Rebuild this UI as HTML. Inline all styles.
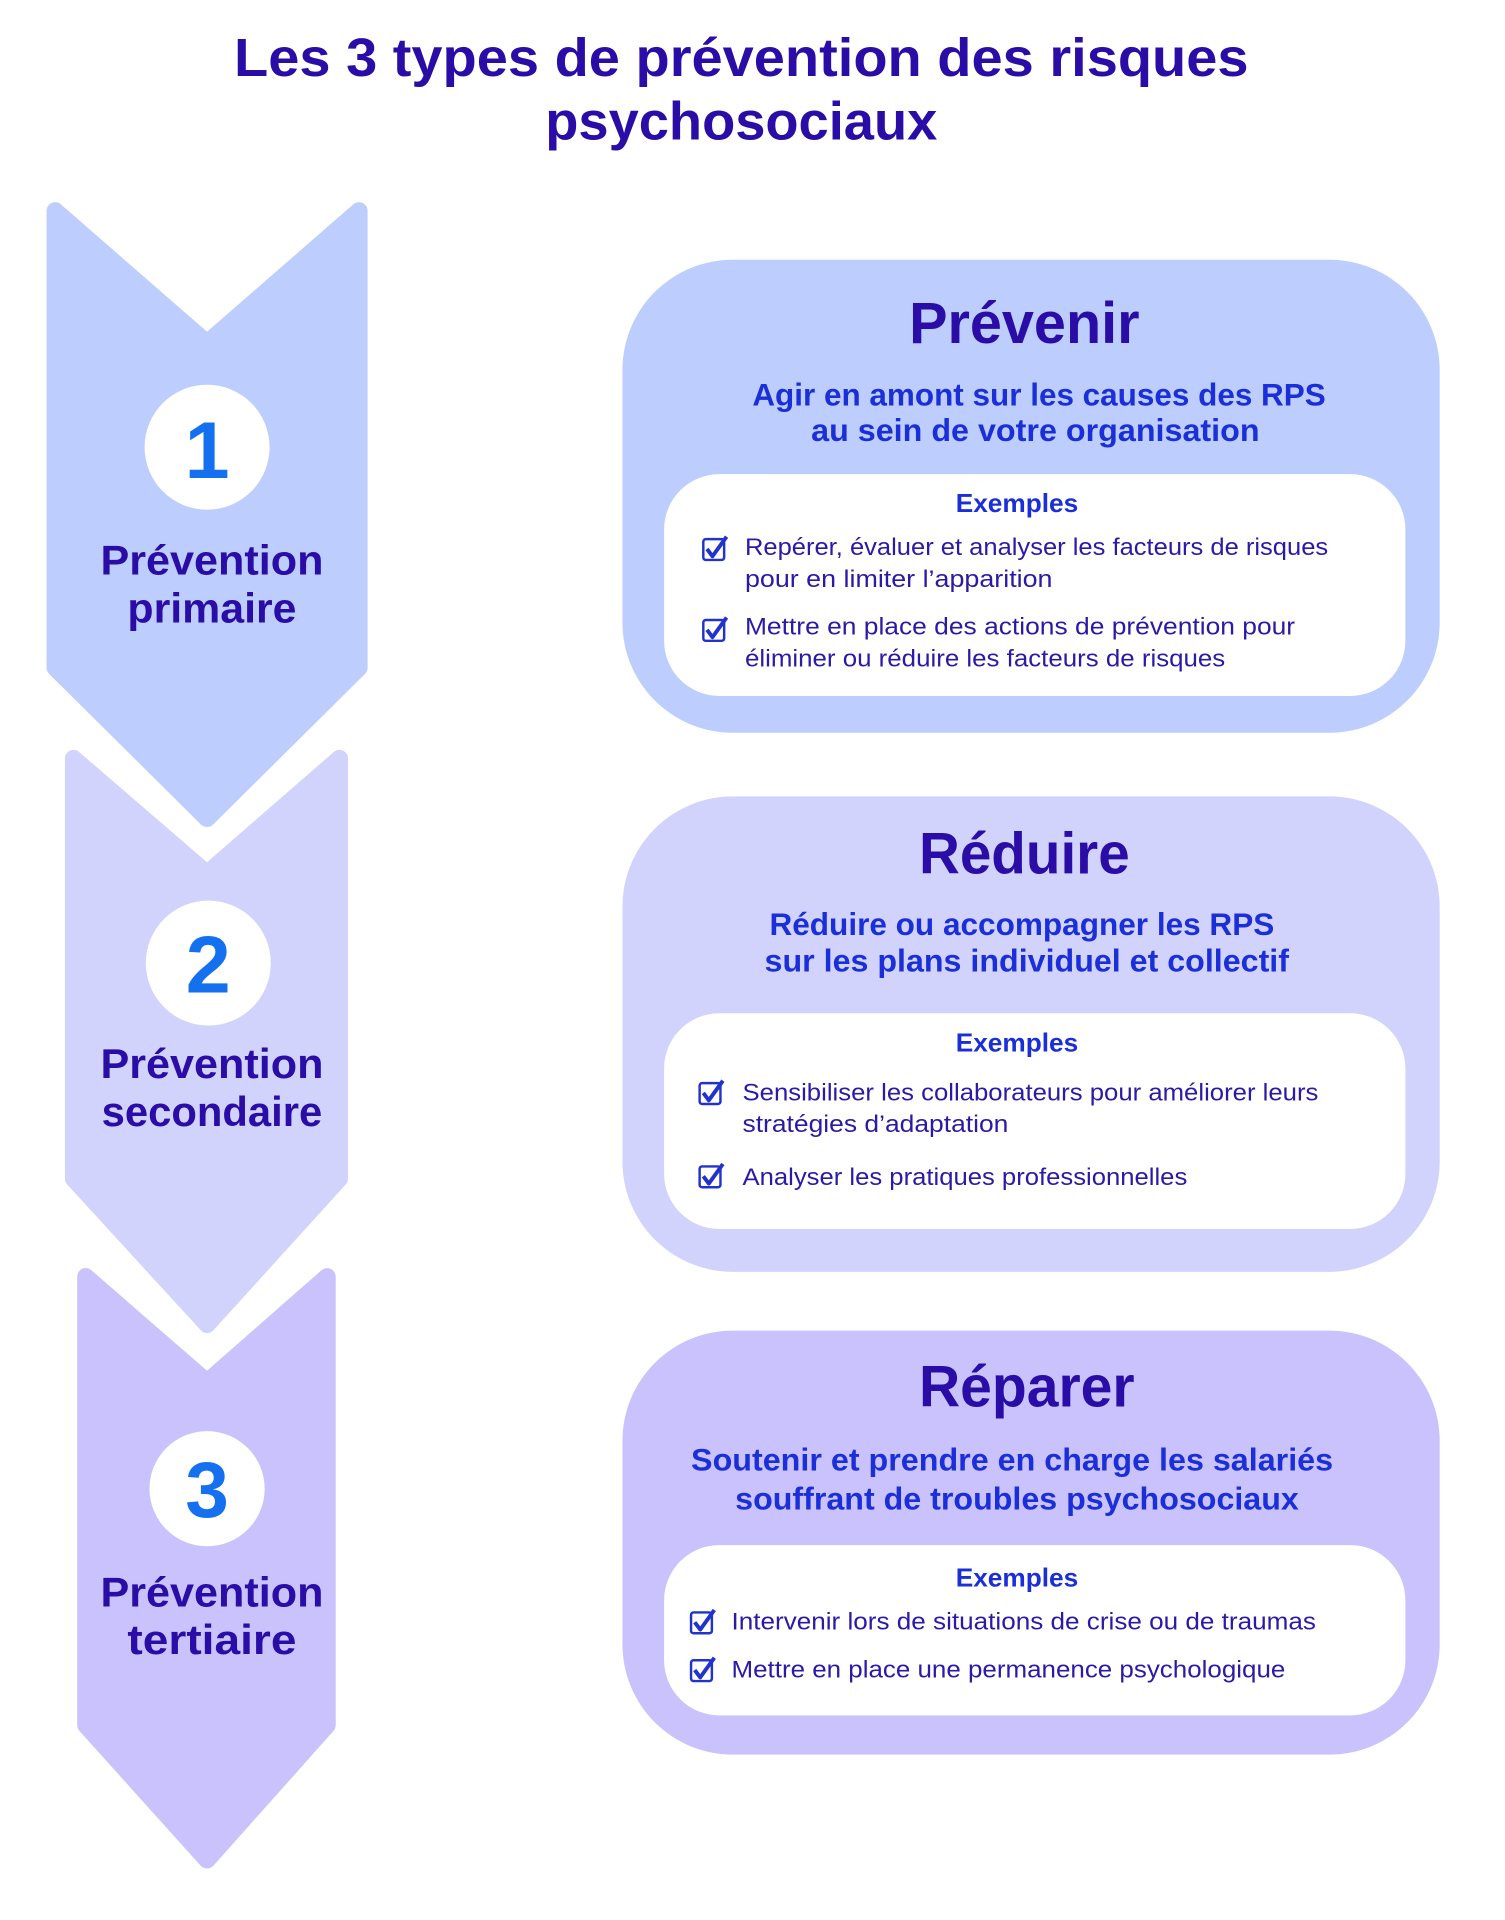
<!DOCTYPE html>
<html><head><meta charset="utf-8"><style>
html,body{margin:0;padding:0;background:#fff;}
svg{display:block;}
text{font-family:"Liberation Sans",sans-serif;}
.h{fill:#2a0ca6;font-weight:bold;}
.s{fill:#1b2fd8;font-weight:bold;}
.e{fill:#1b2fd8;font-weight:bold;}
.i{fill:#2a1aa8;}
.n{fill:#1570f0;font-weight:bold;}
</style></head><body>
<svg width="1505" height="1920" viewBox="0 0 1228.3 1567" xmlns="http://www.w3.org/2000/svg">
<defs>
<g id="cb"><rect x="0" y="0" width="17" height="17" rx="2" fill="#fff" stroke="#2233cc" stroke-width="2"/><path d="M3 8 L7.5 14 L19 -2" fill="none" stroke="#2233cc" stroke-width="3.2" stroke-linejoin="round"/></g>
</defs>
<text x="605" y="62" text-anchor="middle" class="h" font-size="44" textLength="828" lengthAdjust="spacingAndGlyphs">Les 3 types de prévention des risques</text>
<text x="605" y="114" text-anchor="middle" class="h" font-size="44" textLength="320" lengthAdjust="spacingAndGlyphs">psychosociaux</text>

<polygon points="45,172 169,280 293,172 293,545 169,668 45,545" fill="#bdcdfd" stroke="#bdcdfd" stroke-width="14" stroke-linejoin="round"/>
<polygon points="60,619 169,713 277,619 277,962 169,1081 60,962" fill="#d2d3fd" stroke="#d2d3fd" stroke-width="14" stroke-linejoin="round"/>
<polygon points="70,1042 169,1128 267,1042 267,1408 169,1518 70,1408" fill="#c9c2fd" stroke="#c9c2fd" stroke-width="14" stroke-linejoin="round"/>

<circle cx="169" cy="365" r="51" fill="#fff"/>
<text x="169" y="390" text-anchor="middle" class="n" font-size="66">1</text>
<circle cx="170" cy="786" r="51" fill="#fff"/>
<text x="170" y="810" text-anchor="middle" class="n" font-size="66">2</text>
<circle cx="169" cy="1215" r="47" fill="#fff"/>
<text x="169" y="1238" text-anchor="middle" class="n" font-size="64">3</text>

<g class="h" font-size="34" text-anchor="middle">
<text x="173" y="469" textLength="182" lengthAdjust="spacingAndGlyphs">Prévention</text>
<text x="173" y="508" textLength="138" lengthAdjust="spacingAndGlyphs">primaire</text>
<text x="173" y="880" textLength="182" lengthAdjust="spacingAndGlyphs">Prévention</text>
<text x="173" y="919" textLength="180" lengthAdjust="spacingAndGlyphs">secondaire</text>
<text x="173" y="1311" textLength="182" lengthAdjust="spacingAndGlyphs">Prévention</text>
<text x="173" y="1350" textLength="138" lengthAdjust="spacingAndGlyphs">tertiaire</text>
</g>

<rect x="508" y="212" width="667" height="386" rx="90" fill="#bdcdfd"/>
<rect x="542" y="387" width="605" height="181" rx="45" fill="#fff"/>
<text x="836" y="280" text-anchor="middle" class="h" font-size="48" textLength="188" lengthAdjust="spacingAndGlyphs">Prévenir</text>
<text x="848" y="331" text-anchor="middle" class="s" font-size="26" textLength="468" lengthAdjust="spacingAndGlyphs">Agir en amont sur les causes des RPS</text>
<text x="845" y="360" text-anchor="middle" class="s" font-size="26" textLength="366" lengthAdjust="spacingAndGlyphs">au sein de votre organisation</text>
<text x="830" y="418" text-anchor="middle" class="e" font-size="21" textLength="100" lengthAdjust="spacingAndGlyphs">Exemples</text>
<use href="#cb" x="574" y="440"/>
<text x="608" y="453" class="i" font-size="20" textLength="476" lengthAdjust="spacingAndGlyphs">Repérer, évaluer et analyser les facteurs de risques</text>
<text x="608" y="479" class="i" font-size="20" textLength="251" lengthAdjust="spacingAndGlyphs">pour en limiter l’apparition</text>
<use href="#cb" x="574" y="506"/>
<text x="608" y="518" class="i" font-size="20" textLength="449" lengthAdjust="spacingAndGlyphs">Mettre en place des actions de prévention pour</text>
<text x="608" y="544" class="i" font-size="20" textLength="392" lengthAdjust="spacingAndGlyphs">éliminer ou réduire les facteurs de risques</text>

<rect x="508" y="650" width="667" height="388" rx="90" fill="#d2d3fd"/>
<rect x="542" y="827" width="605" height="176" rx="45" fill="#fff"/>
<text x="836" y="713" text-anchor="middle" class="h" font-size="48" textLength="172" lengthAdjust="spacingAndGlyphs">Réduire</text>
<text x="834" y="763" text-anchor="middle" class="s" font-size="26" textLength="412" lengthAdjust="spacingAndGlyphs">Réduire ou accompagner les RPS</text>
<text x="838" y="793" text-anchor="middle" class="s" font-size="26" textLength="428" lengthAdjust="spacingAndGlyphs">sur les plans individuel et collectif</text>
<text x="830" y="858" text-anchor="middle" class="e" font-size="21" textLength="100" lengthAdjust="spacingAndGlyphs">Exemples</text>
<use href="#cb" x="571" y="884"/>
<text x="606" y="898" class="i" font-size="20" textLength="470" lengthAdjust="spacingAndGlyphs">Sensibiliser les collaborateurs pour améliorer leurs</text>
<text x="606" y="924" class="i" font-size="20" textLength="217" lengthAdjust="spacingAndGlyphs">stratégies d’adaptation</text>
<use href="#cb" x="571" y="952"/>
<text x="606" y="967" class="i" font-size="20" textLength="363" lengthAdjust="spacingAndGlyphs">Analyser les pratiques professionnelles</text>

<rect x="508" y="1086" width="667" height="346" rx="90" fill="#c9c2fd"/>
<rect x="542" y="1261" width="605" height="139" rx="45" fill="#fff"/>
<text x="838" y="1148" text-anchor="middle" class="h" font-size="48" textLength="176" lengthAdjust="spacingAndGlyphs">Réparer</text>
<text x="826" y="1200" text-anchor="middle" class="s" font-size="26" textLength="524" lengthAdjust="spacingAndGlyphs">Soutenir et prendre en charge les salariés</text>
<text x="830" y="1232" text-anchor="middle" class="s" font-size="26" textLength="460" lengthAdjust="spacingAndGlyphs">souffrant de troubles psychosociaux</text>
<text x="830" y="1295" text-anchor="middle" class="e" font-size="21" textLength="100" lengthAdjust="spacingAndGlyphs">Exemples</text>
<use href="#cb" x="564" y="1316"/>
<text x="597" y="1330" class="i" font-size="20" textLength="477" lengthAdjust="spacingAndGlyphs">Intervenir lors de situations de crise ou de traumas</text>
<use href="#cb" x="564" y="1355"/>
<text x="597" y="1369" class="i" font-size="20" textLength="452" lengthAdjust="spacingAndGlyphs">Mettre en place une permanence psychologique</text>
</svg>
</body></html>
